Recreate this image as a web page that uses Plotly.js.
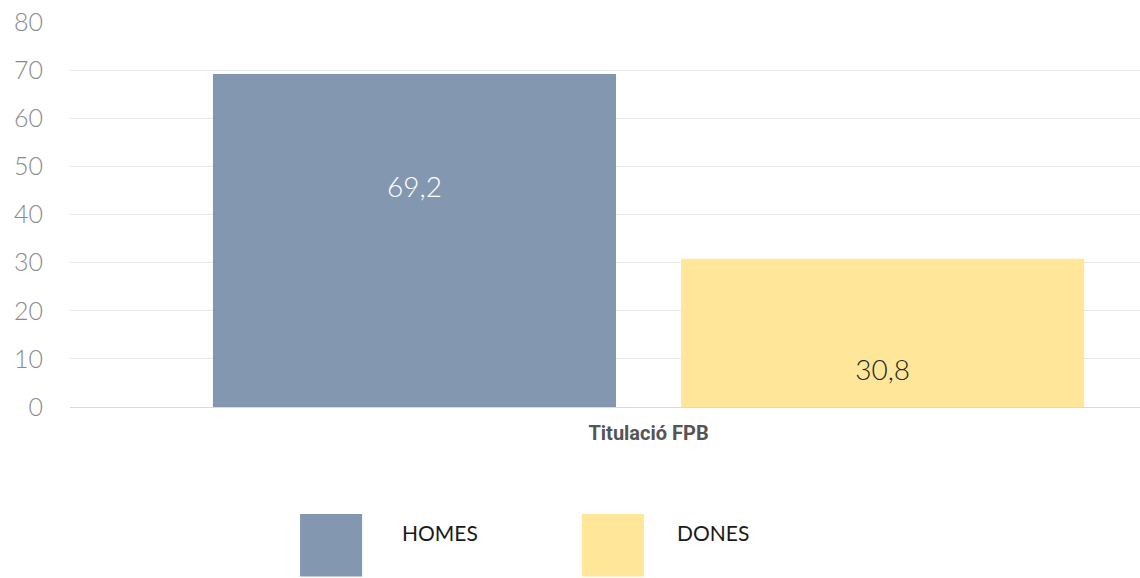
<!DOCTYPE html>
<html>
<head>
<meta charset="utf-8">
<script src="https://cdn.plot.ly/plotly-3.0.1.min.js"></script>
<style>html,body{margin:0;padding:0;background:#fff;}#chart{width:1140px;height:578px;}</style>
</head>
<body>
<div id="chart"></div>
<script>
const categories = ['Titulació FPB'];
const seriesNames = ['HOMES', 'DONES'];
const homesValues = [69.2];
const donesValues = [30.8];
const seriesColors = ['#8497b0', '#ffe699'];
const labelColors = ['#ffffff', '#262626'];
const yTickValues = [0, 10, 20, 30, 40, 50, 60, 70, 80];

const fmt = v => String(v).replace('.', ',');
const allValues = [homesValues, donesValues];
const prefix = ['', ' <br> <br>'];
const suffix = ['<br> <br> <br> ', ''];

const traces = seriesNames.map((name, i) => ({
  type: 'bar',
  name: name,
  x: categories,
  y: allValues[i],
  marker: {color: seriesColors[i]},
  text: allValues[i].map(v => prefix[i] + fmt(v) + suffix[i]),
  textposition: 'inside',
  insidetextanchor: 'middle',
  textangle: 0,
  textfont: {family: 'Lato', size: 28, weight: 300, color: labelColors[i]},
  hoverinfo: 'none',
  showlegend: false
}));

// custom large legend squares
const sqX = [0.215, 0.4785];
const sqW = 0.058;
const txtX = [0.3084, 0.5654];
const shapes = seriesNames.map((n, i) => ({
  type: 'rect', xref: 'paper', yref: 'paper',
  x0: sqX[i], x1: sqX[i] + sqW, y0: -0.44, y1: -0.278,
  fillcolor: seriesColors[i], line: {width: 0}
}));
const annotations = seriesNames.map((n, i) => ({
  xref: 'paper', yref: 'paper', x: txtX[i], y: -0.327,
  xanchor: 'left', yanchor: 'middle', showarrow: false, text: n,
  font: {family: 'Lato', size: 21, color: '#1a1a1a'}
}));

const layout = {
  width: 1140, height: 578,
  margin: {l: 70, r: 0, t: 22, b: 171},
  paper_bgcolor: '#ffffff', plot_bgcolor: '#ffffff',
  barmode: 'group', bargap: 0.125, bargroupgap: 0.139,
  showlegend: false,
  xaxis: {
    range: [-0.5407, 0.4593],
    showgrid: false, zeroline: false, showline: false, ticks: '',
    ticklabelstandoff: 12,
    tickfont: {family: 'Roboto', size: 20, weight: 'bold', color: '#555555'}
  },
  yaxis: {
    range: [0, 80], tickvals: yTickValues,
    showgrid: true, gridcolor: '#e6e6e6', gridwidth: 1,
    zeroline: true, zerolinecolor: '#d9d9d9', zerolinewidth: 1,
    showline: false, ticks: '',
    ticklabelstandoff: 26,
    tickfont: {family: 'Lato', size: 25, weight: 300, color: '#8a8a8a'}
  },
  shapes: shapes,
  annotations: annotations,
  font: {family: 'Lato'}
};

Plotly.newPlot('chart', traces, layout, {displayModeBar: false, staticPlot: true});
</script>
</body>
</html>
